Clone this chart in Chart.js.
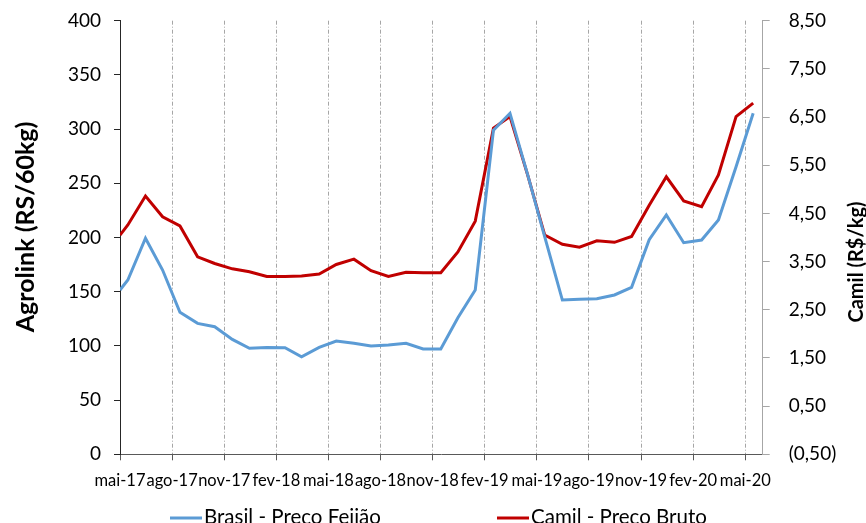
<!DOCTYPE html>
<html>
<head>
<meta charset="utf-8">
<title>Feijão - Agrolink x Camil</title>
<script src="https://cdn.jsdelivr.net/npm/chart.js@4.4.0/dist/chart.umd.min.js"></script>
<style>
  html, body { margin: 0; padding: 0; background: #fff; overflow: hidden; }
  #wrap { width: 866px; height: 523px; position: relative; }
</style>
</head>
<body>
<div id="wrap"><canvas id="chart"></canvas></div>
<script>
// Observation dates (first one is the start of May, the rest mid-month)
const dates = [
  '2017-05-01', '2017-05-15', '2017-06-15', '2017-07-15', '2017-08-15', '2017-09-15',
  '2017-10-15', '2017-11-15', '2017-12-15', '2018-01-15', '2018-02-15', '2018-03-15',
  '2018-04-15', '2018-05-15', '2018-06-15', '2018-07-15', '2018-08-15', '2018-09-15',
  '2018-10-15', '2018-11-15', '2018-12-15', '2019-01-15', '2019-02-15', '2019-03-15',
  '2019-04-15', '2019-05-15', '2019-06-15', '2019-07-15', '2019-08-15', '2019-09-15',
  '2019-10-15', '2019-11-15', '2019-12-15', '2020-01-15', '2020-02-15', '2020-03-15',
  '2020-04-15', '2020-05-15'
];

// Agrolink - R$/60kg (left axis)
const brasilFeijao = [
  151.6, 160.8, 199.3, 170.0, 131.0, 120.8, 117.7, 106.0, 97.8, 98.5, 98.3, 90.0,
  98.7, 104.5, 102.4, 99.9, 100.8, 102.4, 97.1, 97.1, 126.0, 151.6, 299.0, 314.6,
  258.0, 200.5, 142.3, 143.0, 143.5, 147.0, 154.0, 198.0, 220.8, 195.2, 197.7, 216.1,
  265.3, 314.6
];

// Camil - R$/kg (right axis)
const camilBruto = [
  4.05, 4.26, 4.86, 4.43, 4.24, 3.60, 3.46, 3.35, 3.29, 3.19, 3.19, 3.20,
  3.24, 3.44, 3.55, 3.31, 3.19, 3.28, 3.27, 3.27, 3.70, 4.34, 6.27, 6.51,
  5.30, 4.05, 3.86, 3.80, 3.93, 3.90, 4.02, 4.67, 5.26, 4.76, 4.64, 5.30,
  6.51, 6.79
];

const tickMonths = [0, 3, 6, 9, 12, 15, 18, 21, 24, 27, 30, 33, 36];
const tickLabels = ['mai-17', 'ago-17', 'nov-17', 'fev-18', 'mai-18', 'ago-18', 'nov-18',
  'fev-19', 'mai-19', 'ago-19', 'nov-19', 'fev-20', 'mai-20'];
const leftTicks = [0, 50, 100, 150, 200, 250, 300, 350, 400];
const rightTicks = [-0.5, 0.5, 1.5, 2.5, 3.5, 4.5, 5.5, 6.5, 7.5, 8.5];

const BLUE = '#5B9BD5';
const RED = '#C00000';
const FONT = 'Lato, "Open Sans", sans-serif';

// months since 1 May 2017
function monthIndex(d) {
  const [y, m, day] = d.split('-').map(Number);
  const dim = new Date(y, m, 0).getDate();
  return (y - 2017) * 12 + (m - 5) + (day - 1) / dim;
}

function brNumber(v) {
  const s = Math.abs(v).toFixed(2).replace('.', ',');
  return v < 0 ? '(' + s + ')' : s;
}

// keep the side axes from pushing the plot area down
function fixVertical(width) {
  return scale => {
    scale.width = width;
    scale.paddingTop = 0;
    scale.paddingBottom = 0;
  };
}

const xs = dates.map(monthIndex);

// Axis titles and legend drawn at fixed spots like the original sheet
const overlay = {
  id: 'overlay',
  afterDraw(chart) {
    const ctx = chart.ctx;
    ctx.save();
    ctx.fillStyle = '#000';
    ctx.textAlign = 'center';
    ctx.textBaseline = 'middle';

    ctx.font = 'bold 25px ' + FONT;
    ctx.save();
    ctx.translate(26, 227);
    ctx.rotate(-Math.PI / 2);
    ctx.fillText('Agrolink (RS/60kg)', 0, 0);
    ctx.restore();

    ctx.font = 'bold 20px ' + FONT;
    ctx.save();
    ctx.translate(857, 262);
    ctx.rotate(-Math.PI / 2);
    ctx.fillText('Camil (R$/kg)', 0, 0);
    ctx.restore();

    // legend
    const items = [{ x: 170, ds: chart.data.datasets[0] }, { x: 497, ds: chart.data.datasets[1] }];
    ctx.font = '20.5px ' + FONT;
    ctx.textAlign = 'left';
    ctx.textBaseline = 'alphabetic';
    items.forEach(it => {
      ctx.strokeStyle = it.ds.borderColor;
      ctx.lineWidth = 3;
      ctx.beginPath();
      ctx.moveTo(it.x, 518);
      ctx.lineTo(it.x + 32, 518);
      ctx.stroke();
      ctx.fillText(it.ds.label, it.x + 34, 524);
    });
    ctx.restore();
  }
};

new Chart(document.getElementById('chart'), {
  type: 'line',
  data: {
    datasets: [
      {
        label: 'Brasil - Preço Feijão',
        data: xs.map((x, i) => ({ x: x, y: brasilFeijao[i] })),
        borderColor: BLUE,
        backgroundColor: BLUE,
        borderWidth: 3,
        pointRadius: 0,
        tension: 0,
        yAxisID: 'y'
      },
      {
        label: 'Camil - Preço Bruto',
        data: xs.map((x, i) => ({ x: x, y: camilBruto[i] })),
        borderColor: RED,
        backgroundColor: RED,
        borderWidth: 3,
        pointRadius: 0,
        tension: 0,
        yAxisID: 'y1'
      }
    ]
  },
  options: {
    responsive: true,
    maintainAspectRatio: false,
    animation: false,
    layout: { padding: { top: 20.7, bottom: 0, left: 0, right: 0 } },
    plugins: {
      legend: { display: false },
      tooltip: { enabled: false }
    },
    scales: {
      x: {
        type: 'linear',
        min: 0,
        max: 37,
        afterBuildTicks: scale => { scale.ticks = tickMonths.map(v => ({ value: v })); },
        afterFit: scale => { scale.height = 68.7; },
        ticks: {
          autoSkip: false,
          maxRotation: 0,
          minRotation: 0,
          padding: 10,
          color: '#000',
          font: { family: FONT, size: 16.5 },
          callback: (v, i) => tickLabels[i]
        },
        grid: {
          color: ctx => (ctx.tick && ctx.tick.value === 0 ? 'rgba(0,0,0,0)' : '#A6A6A6'),
          lineWidth: 1,
          tickColor: '#595959',
          tickLength: 6,
          tickBorderDash: []
        },
        border: { color: '#595959', width: 1, dash: [4, 2, 1, 2] }
      },
      y: {
        position: 'left',
        min: 0,
        max: 400,
        afterBuildTicks: scale => { scale.ticks = leftTicks.map(v => ({ value: v })); },
        afterFit: fixVertical(120),
        ticks: {
          padding: 13,
          color: '#000',
          font: { family: FONT, size: 19 }
        },
        grid: {
          drawOnChartArea: false,
          tickColor: '#262626',
          tickLength: 6
        },
        border: { color: '#262626', width: 1 }
      },
      y1: {
        position: 'right',
        min: -0.5,
        max: 8.5,
        afterBuildTicks: scale => { scale.ticks = rightTicks.map(v => ({ value: v })); },
        afterFit: fixVertical(103.3),
        ticks: {
          padding: 19,
          color: '#000',
          font: { family: FONT, size: 19 },
          callback: v => brNumber(v)
        },
        grid: {
          drawOnChartArea: false,
          tickColor: '#A6A6A6',
          tickLength: 7
        },
        border: { color: '#A6A6A6', width: 1 }
      }
    }
  },
  plugins: [overlay]
});
</script>
</body>
</html>
